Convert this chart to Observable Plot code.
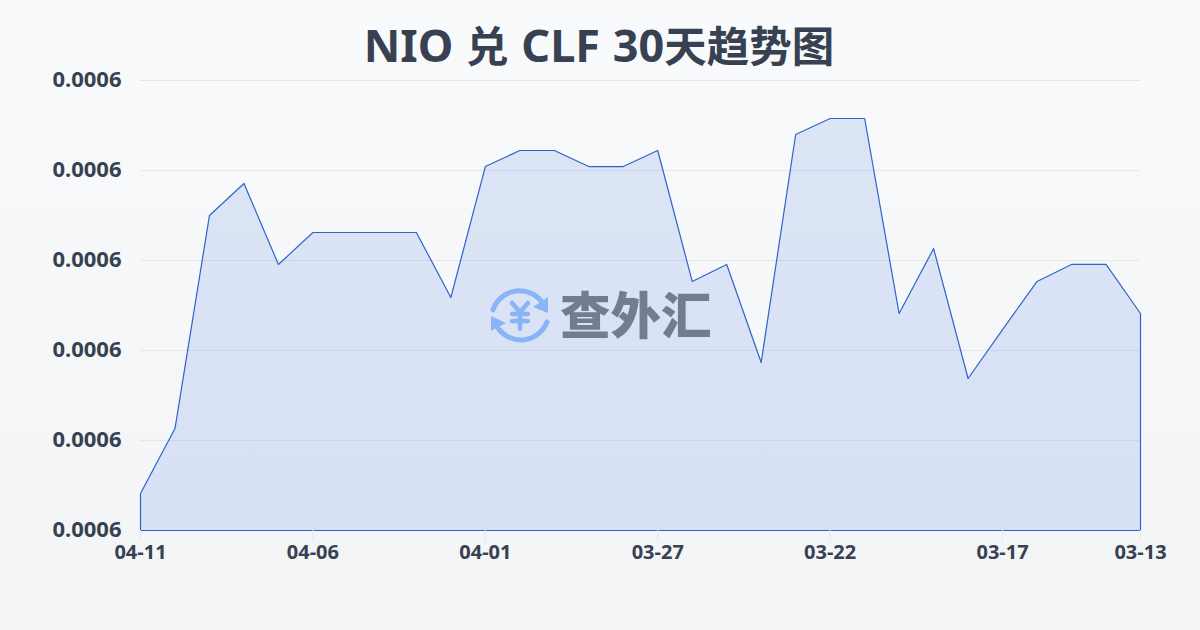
<!DOCTYPE html>
<html lang="zh">
<head>
<meta charset="utf-8">
<script src="https://cdn.jsdelivr.net/npm/d3@7"></script>
<script src="https://cdn.jsdelivr.net/npm/@observablehq/plot@0.6"></script>
<style>
html,body{margin:0;padding:0;width:1200px;height:630px;overflow:hidden;}
body{background:linear-gradient(180deg,#f8fafc 0%,#f2f4f6 100%);position:relative;font-family:"Noto Sans","Noto Sans CJK SC",sans-serif;}
#title{height:70px;line-height:88px;text-align:center;font-size:45px;font-weight:700;color:#374151;white-space:nowrap;word-spacing:1px;padding-right:2px;}
#title span{font-family:"Noto Sans CJK SC";font-size:42.5px;}
#chart svg{display:block;background:transparent;}
#mark{position:absolute;left:488px;top:284px;width:230px;height:64px;overflow:visible;}
</style>
</head>
<body>
<div id="title">NIO <span>兑</span> CLF 30<span>天趋势图</span></div>
<div id="chart"></div>
<svg id="mark" viewBox="0 0 230 64">
  <g fill="none" stroke="#8ab4f8" stroke-width="5" stroke-linecap="round">
    <path d="M5 26 A28 28 0 0 1 54 18"/>
    <path d="M59 38 A28 28 0 0 1 10 44"/>
  </g>
  <path d="M60 13 L60 29 L45 23 Z M3 32 L3 47 L18 39 Z" fill="#8ab4f8"/>
  <g fill="none" stroke="#8ab4f8" stroke-width="4.5" stroke-linecap="round">
    <path d="M24 19 L32 28 L40 19 M32 28 L32 45 M24 30 L40 30 M24 37 L40 37"/>
  </g>
  <text x="72" y="50" font-size="50.5" font-weight="900" fill="#747d8e" font-family="Noto Sans CJK SC">查外汇</text>
</svg>
<script>
const dates = ["04-11","04-10","04-09","04-08","04-07","04-06","04-05","04-04","04-03","04-02","04-01","03-31","03-30","03-29","03-28","03-27","03-26","03-25","03-24","03-23","03-22","03-21","03-20","03-19","03-18","03-17","03-16","03-15","03-14","03-13"];
const rates = [0.00056411,0.00057133,0.000595,0.00059856,0.00058956,0.00059311,0.00059311,0.00059311,0.00059311,0.00058589,0.00060044,0.00060222,0.00060222,0.00060044,0.00060044,0.00060222,0.00058767,0.00058956,0.00057867,0.000604,0.00060578,0.00060578,0.00058411,0.00059133,0.00057689,0.00058233,0.00058767,0.00058956,0.00058956,0.00058411];
const yTicks = [0.00056,0.00057,0.00058,0.00059,0.0006,0.00061];
const xTicks = ["04-11","04-06","04-01","03-27","03-22","03-17","03-13"];
const baseline = 0.00056;
const table = dates.map((d,i)=>({date:d,rate:rates[i],base:baseline}));

const chart = Plot.plot({
  width:1200,height:560,
  marginLeft:140,marginRight:60,marginTop:10,marginBottom:100,
  style:{background:"transparent",fontFamily:'"Noto Sans","Noto Sans CJK SC",sans-serif',overflow:"visible"},
  x:{type:"point",domain:dates,padding:0,round:false,label:null},
  y:{domain:[0.00056,0.00061],label:null},
  marks:[
    Plot.ruleY(yTicks,{stroke:"#e5e7eb",strokeWidth:1}),
    Plot.areaY(table,{x:"date",y1:"base",y2:"rate",fill:"#3b6fe0",fillOpacity:0.15,stroke:"#2f63cc",strokeWidth:1.2,curve:"linear",dx:0.5,dy:0.5}),
    Plot.axisY({ticks:yTicks,tickSize:0,tickPadding:19,tickFormat:d3.format(".4f"),fontSize:22,fontWeight:700,fill:"#374151",label:null,anchor:"left",dy:-1}),
    Plot.axisX({ticks:xTicks,tickSize:11,tickPadding:3,fontSize:20,fontWeight:700,fill:"#374151",stroke:"#e5e7eb",label:null,anchor:"bottom"})
  ]
});
document.getElementById("chart").appendChild(chart);
</script>
</body>
</html>
